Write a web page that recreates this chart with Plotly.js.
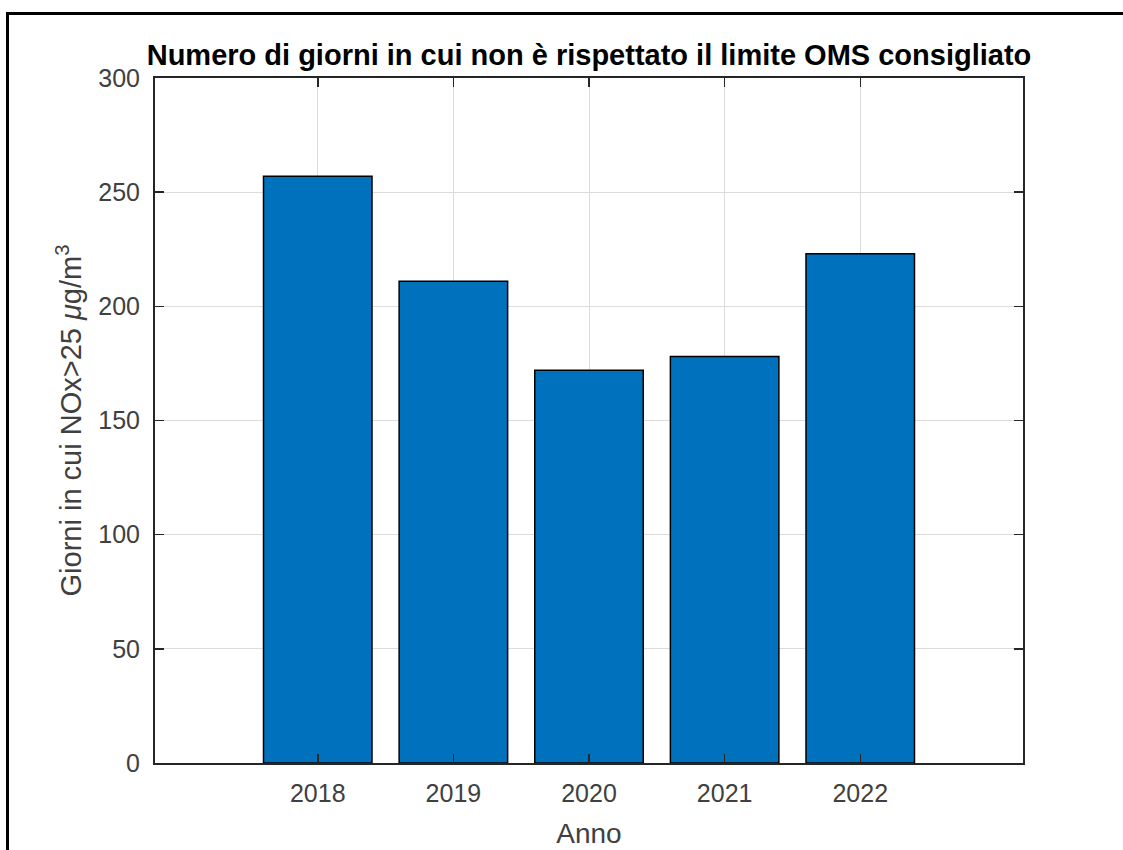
<!DOCTYPE html>
<html>
<head>
<meta charset="utf-8">
<script src="https://cdn.plot.ly/plotly-3.0.1.min.js"></script>
<style>
  html, body { margin: 0; padding: 0; background: #ffffff; }
  #wrap { position: relative; width: 1123px; height: 850px; overflow: hidden; }
  #chart { position: absolute; left: 0; top: 0; width: 1123px; height: 850px; }
  #frame { position: absolute; left: 6px; top: 12px; width: 1200px; height: 900px;
           border-top: 3px solid #000; border-left: 3px solid #000; pointer-events: none; }
</style>
</head>
<body>
<div id="wrap">
  <div id="chart"></div>
  <div id="frame"></div>
</div>
<script>
const years = [2018, 2019, 2020, 2021, 2022];
const giorni = [257, 211, 172, 178, 223];
const yTicks = [0, 50, 100, 150, 200, 250, 300];
const titleText = 'Numero di giorni in cui non è rispettato il limite OMS consigliato';
const xTitle = 'Anno';
const yTitle = 'Giorni in cui NOx>25 <i>μ</i>g/m<sup>3</sup>';

const trace = {
  type: 'bar',
  x: years,
  y: giorni,
  width: 0.8,
  marker: { color: '#0072BD', line: { color: '#000000', width: 1.5 } },
  hoverinfo: 'x+y'
};

const axisCommon = {
  showline: true,
  linecolor: '#262626',
  linewidth: 2,
  mirror: 'ticks',
  ticks: 'inside',
  ticklen: 9,
  tickwidth: 1.5,
  tickcolor: '#262626',
  showgrid: true,
  gridcolor: '#dcdcdc',
  gridwidth: 1,
  zeroline: false,
  tickfont: { family: 'Liberation Sans, Arial, sans-serif', size: 25, color: '#404040' }
};

const layout = {
  width: 1123,
  height: 850,
  paper_bgcolor: '#ffffff',
  plot_bgcolor: '#ffffff',
  margin: { l: 155, r: 100, t: 78, b: 87 },
  showlegend: false,
  bargap: 0.2,
  title: {
    text: '<b>' + titleText + '</b>',
    font: { family: 'Liberation Sans, Arial, sans-serif', size: 29, color: '#000000' },
    x: 589 / 1123,
    xanchor: 'center',
    xref: 'container',
    y: 1 - 55 / 850,
    yref: 'container',
    yanchor: 'middle'
  },
  xaxis: Object.assign({}, axisCommon, {
    range: [2016.8, 2023.2],
    tickmode: 'array',
    tickvals: years,
    ticktext: years.map(String),
    ticklabelstandoff: 7,
    title: { text: xTitle, standoff: 17,
             font: { family: 'Liberation Sans, Arial, sans-serif', size: 28, color: '#404040' } }
  }),
  yaxis: Object.assign({}, axisCommon, {
    range: [0, 300],
    tickmode: 'array',
    tickvals: yTicks,
    ticktext: yTicks.map(String),
    ticklabelstandoff: 8,
    title: { text: yTitle, standoff: 8,
             font: { family: 'Liberation Sans, Arial, sans-serif', size: 29, color: '#404040' } }
  })
};

Plotly.newPlot('chart', [trace], layout, { staticPlot: true, displayModeBar: false });
</script>
</body>
</html>
